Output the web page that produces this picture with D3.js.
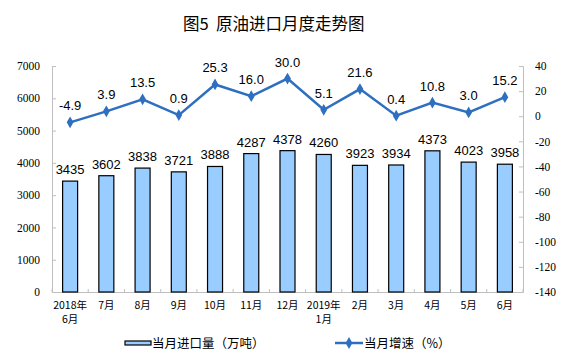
<!DOCTYPE html>
<html><head><meta charset="utf-8">
<script src="https://cdn.jsdelivr.net/npm/d3@7"></script>
<style>body{margin:0;background:#fff}svg{display:block}</style>
</head><body>
<svg id="c" width="587" height="363"></svg>
<script>
const categories = [["2018年","6月"],["7月"],["8月"],["9月"],["10月"],["11月"],["12月"],["2019年","1月"],["2月"],["3月"],["4月"],["5月"],["6月"]];
const imports = [3435,3602,3838,3721,3888,4287,4378,4260,3923,3934,4373,4023,3958];
const growth = [-4.9,3.9,13.5,0.9,25.3,16.0,30.0,5.1,21.6,0.4,10.8,3.0,15.2];
const leftTicks = [0,1000,2000,3000,4000,5000,6000,7000];
const rightTicks = [40,20,0,-20,-40,-60,-80,-100,-120,-140];
const title = "图5  原油进口月度走势图";
const legendLabels = ["当月进口量（万吨）","当月增速（%）"];

const svg = d3.select("#c");
const L=52, R=523, T=66, B=292;
const idx = categories.map((d,i)=>i);
const x = d3.scaleBand().domain(idx).range([L,R]).paddingInner(0).paddingOuter(0);
const yL = d3.scaleLinear().domain([0,7000]).range([B,T]);
const yR = d3.scaleLinear().domain([-140,40]).range([B,T]);
const axisCol="#bfbfbf";
const numFont="'Liberation Serif','Times New Roman',serif";
const cjk="'Noto Sans CJK SC',sans-serif";
const fmt = d=>String(d);

svg.append("text").attr("x",183).attr("y",29.5).attr("text-anchor","start")
  .attr("font-family",cjk).attr("font-size",16.5).attr("font-weight",400).attr("fill","#000")
  .style("white-space","pre").text(title);

// left axis
const gl = svg.append("g").attr("transform",`translate(${L},0)`)
  .call(d3.axisLeft(yL).tickValues(leftTicks).tickFormat(fmt).tickSize(-4).tickPadding(12));
gl.select(".domain").attr("stroke",axisCol);
gl.selectAll(".tick line").attr("stroke",axisCol);
gl.selectAll(".tick text").attr("font-family",numFont).attr("font-size",11.5).attr("fill","#000");

// right axis
const gr = svg.append("g").attr("transform",`translate(${R},0)`)
  .call(d3.axisRight(yR).tickValues(rightTicks).tickFormat(fmt).tickSize(-4).tickPadding(12));
gr.select(".domain").attr("stroke",axisCol);
gr.selectAll(".tick line").attr("stroke",axisCol);
gr.selectAll(".tick text").attr("font-family",numFont).attr("font-size",11.5).attr("fill","#000");

// bottom axis
svg.append("line").attr("x1",L).attr("x2",R).attr("y1",B+0.5).attr("y2",B+0.5).attr("stroke",axisCol);
svg.selectAll(".xt").data(d3.range(categories.length+1)).join("line")
  .attr("x1",i=>L+i*x.step()).attr("x2",i=>L+i*x.step()).attr("y1",B).attr("y2",B-3).attr("stroke",axisCol);
const xl = svg.selectAll(".xl").data(categories).join("text")
  .attr("font-family",cjk).attr("font-size",10.5).attr("fill","#000").attr("text-anchor","middle");
xl.each(function(d,i){
  const t=d3.select(this);
  d.forEach((s,j)=>t.append("tspan").attr("x",x(i)+x.bandwidth()/2).attr("y",309+j*14).text(s));
});

// bars
const bw = 15;
svg.selectAll(".bar").data(imports).join("rect")
  .attr("x",(d,i)=>x(i)+x.bandwidth()/2-bw/2).attr("width",bw)
  .attr("y",d=>yL(d)).attr("height",d=>B-yL(d))
  .attr("fill","#99ccff").attr("stroke","#000").attr("stroke-width",1.2);
svg.selectAll(".bl").data(imports).join("text")
  .attr("x",(d,i)=>x(i)+x.bandwidth()/2).attr("y",d=>yL(d)-7)
  .attr("text-anchor","middle").attr("font-family","'Liberation Sans',Arial,sans-serif")
  .attr("font-size",13).attr("fill","#000").text(d=>d);

// line
const lineCol="#2e6fc0";
const line = d3.line().x((d,i)=>x(i)+x.bandwidth()/2).y(d=>yR(d));
svg.append("path").datum(growth).attr("d",line).attr("fill","none").attr("stroke",lineCol).attr("stroke-width",2.5);
const sym = d3.symbol().type(d3.symbolDiamond).size(40);
svg.selectAll(".pt").data(growth).join("path")
  .attr("transform",(d,i)=>`translate(${x(i)+x.bandwidth()/2},${yR(d)})`)
  .attr("d",sym).attr("fill",lineCol);
svg.selectAll(".pl").data(growth).join("text")
  .attr("x",(d,i)=>x(i)+x.bandwidth()/2).attr("y",d=>yR(d)-12)
  .attr("text-anchor","middle").attr("font-family","'Liberation Sans',Arial,sans-serif")
  .attr("font-size",13).attr("fill","#000").text(d=>d.toFixed(1));

// legend
svg.append("rect").attr("x",125).attr("y",341).attr("width",26).attr("height",4)
  .attr("fill","#99ccff").attr("stroke","#000").attr("stroke-width",1.2);
svg.append("text").attr("x",152).attr("y",347.5).attr("font-family",cjk).attr("font-size",12.5).attr("fill","#000").text(legendLabels[0]);
svg.append("line").attr("x1",335).attr("x2",363).attr("y1",343).attr("y2",343).attr("stroke",lineCol).attr("stroke-width",2.5);
svg.append("path").attr("transform","translate(349,343)").attr("d",sym).attr("fill",lineCol);
svg.append("text").attr("x",364).attr("y",347.5).attr("font-family",cjk).attr("font-size",12.5).attr("fill","#000").text(legendLabels[1]);
</script>
</body></html>
